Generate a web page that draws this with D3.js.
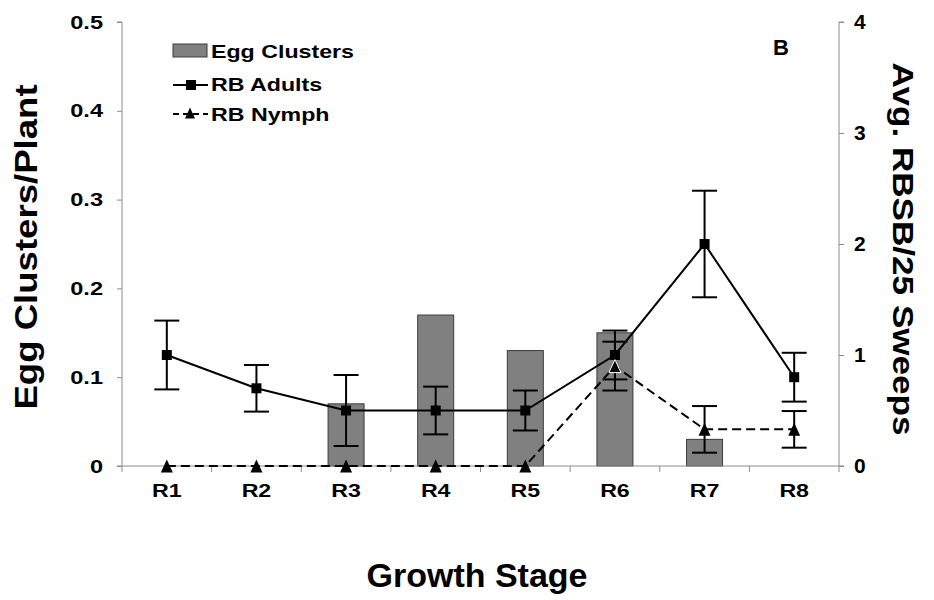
<!DOCTYPE html>
<html><head><meta charset="utf-8">
<script src="https://cdn.jsdelivr.net/npm/d3@7"></script>
<style>body{margin:0;background:#fff}svg{display:block}text{font-family:"Liberation Sans",Arial,sans-serif;font-weight:bold}</style>
</head><body><svg id="c" width="934" height="600"></svg>
<script>
const categories = ["R1","R2","R3","R4","R5","R6","R7","R8"];
const eggClusters = [0,0,0.07,0.17,0.13,0.15,0.03,0];
const adults = [1.0,0.7,0.5,0.5,0.5,1.0,2.0,0.8];
const adultsErr = [0.31,0.21,0.32,0.215,0.18,0.22,0.48,0.22];
const nymphs = [0,0,0,0,0,0.9,0.33,0.33];
const nymphsErr = [null,null,null,null,null,0.22,0.21,0.165];
const leftTicks = [0,0.1,0.2,0.3,0.4,0.5];
const rightTicks = [0,1,2,3,4];

const svg = d3.select("#c");
const L=122, R=839, T=22, B=466;
const x = d3.scaleBand().domain(categories).range([L,R]).paddingInner(0).paddingOuter(0);
const yL = d3.scaleLinear().domain([0,0.5]).range([B,T]);
const yR = d3.scaleLinear().domain([0,4]).range([B,T]);
const axisColor="#8c8c8c";

function stretch(sel, f){
  sel.each(function(){ const n=this; const len=n.getComputedTextLength();
    d3.select(n).attr("textLength",len*f).attr("lengthAdjust","spacingAndGlyphs"); });
}

// bars
const bw = 36;
svg.append("g").selectAll("rect").data(categories.map((c,i)=>({c,v:eggClusters[i]})).filter(d=>d.v>0))
 .join("rect").attr("x",d=>x(d.c)+x.bandwidth()/2-bw/2).attr("width",bw)
 .attr("y",d=>yL(d.v)).attr("height",d=>B-yL(d.v))
 .attr("fill","#808080").attr("stroke","#3a3a3a").attr("stroke-width",1);

// axes
const gL = svg.append("g").attr("transform",`translate(${L},0)`)
 .call(d3.axisLeft(yL).tickValues(leftTicks).tickSize(5).tickPadding(14).tickFormat(d=>d===0?"0":d3.format(".1f")(d)));
const gR = svg.append("g").attr("transform",`translate(${R},0)`)
 .call(d3.axisRight(yR).tickValues(rightTicks).tickSize(5).tickPadding(10).tickFormat(d3.format("d")));
const gX = svg.append("g").attr("transform",`translate(0,${B})`)
 .call(d3.axisBottom(x).tickSize(0).tickPadding(18));
[gL,gR,gX].forEach(g=>{g.select(".domain").attr("stroke",axisColor);g.selectAll(".tick line").attr("stroke",axisColor);
 g.selectAll("text").attr("font-family","Liberation Sans, Arial, sans-serif").attr("font-weight","bold").attr("fill","#000");});
gL.selectAll("text").attr("font-size",19); stretch(gL.selectAll("text"),1.24);
gR.selectAll("text").attr("font-size",20); stretch(gR.selectAll("text"),1.05);
gX.selectAll("text").attr("font-size",19); stretch(gX.selectAll("text"),1.22);
gL.select(".domain").attr("d",`M-5,${T}H0V${B}H-5`);
gR.select(".domain").attr("d",`M5,${T}H0V${B}H5`);
gX.select(".domain").attr("d",`M${L},0H${R}`);
// x boundary ticks
const bounds = categories.map(c=>x(c)).concat([R]);
svg.append("g").selectAll("line").data(bounds).join("line")
 .attr("x1",d=>d).attr("x2",d=>d).attr("y1",B).attr("y2",B+6).attr("stroke",axisColor);

const cx = c=>x(c)+x.bandwidth()/2;

// nymph line
svg.append("path").datum(nymphs).attr("fill","none").attr("stroke","#000").attr("stroke-width",2)
 .attr("stroke-dasharray","9,5")
 .attr("d",d3.line().x((d,i)=>cx(categories[i])).y(d=>yR(d)));
// adults line
svg.append("path").datum(adults).attr("fill","none").attr("stroke","#000").attr("stroke-width",2)
 .attr("d",d3.line().x((d,i)=>cx(categories[i])).y(d=>yR(d)));

// error bars
function errBars(vals, errs){
 const g=svg.append("g").attr("stroke","#000").attr("stroke-width",2);
 vals.forEach((v,i)=>{
  const e=errs[i]; if(e==null) return;
  const X=cx(categories[i]);
  g.append("line").attr("x1",X).attr("x2",X).attr("y1",yR(v+e)).attr("y2",yR(v-e));
  [v+e,v-e].forEach(t=>g.append("line").attr("x1",X-12.5).attr("x2",X+12.5).attr("y1",yR(t)).attr("y2",yR(t)));
 });
}
errBars(adults,adultsErr);
errBars(nymphs,nymphsErr);

// markers
svg.append("g").selectAll("rect").data(adults).join("rect")
 .attr("x",(d,i)=>cx(categories[i])-5).attr("y",d=>yR(d)-5).attr("width",10).attr("height",10).attr("fill","#000");
const triPath = "M0,-6.5L6,6.5L-6,6.5Z";
svg.append("g").selectAll("path").data(nymphs).join("path")
 .attr("d",triPath).attr("transform",(d,i)=>`translate(${cx(categories[i])},${yR(d)})`)
 .attr("fill","#000").attr("stroke",(d,i)=>i===5?"#fff":"none").attr("stroke-width",1);

// axis titles
const t1 = svg.append("text").attr("transform","translate(37,247) rotate(-90)").attr("text-anchor","middle")
 .attr("font-size",31).text("Egg Clusters/Plant");
stretch(t1,1.18);
const t2 = svg.append("text").attr("transform","translate(893,249) rotate(90)").attr("text-anchor","middle")
 .attr("font-size",29).text("Avg. RBSB/25 Sweeps");
stretch(t2,1.21);
svg.append("text").attr("x",477).attr("y",587).attr("text-anchor","middle").attr("font-size",34).text("Growth Stage");
svg.append("text").attr("x",781).attr("y",55).attr("text-anchor","middle").attr("font-size",22).text("B");

// legend
const lg = svg.append("g");
lg.append("rect").attr("x",173).attr("y",44).attr("width",34).attr("height",13).attr("fill","#808080").attr("stroke","#3a3a3a");
lg.append("line").attr("x1",173).attr("x2",208).attr("y1",85).attr("y2",85).attr("stroke","#000").attr("stroke-width",2);
lg.append("rect").attr("x",186).attr("y",80).attr("width",10).attr("height",10).attr("fill","#000");
lg.append("line").attr("x1",173).attr("x2",208).attr("y1",114).attr("y2",114).attr("stroke","#000").attr("stroke-width",2).attr("stroke-dasharray","6,4");
lg.append("path").attr("d","M0,-5.5L5,5.5L-5,5.5Z").attr("transform","translate(190,113)").attr("fill","#000");
const lt = lg.selectAll("text.lt").data([["Egg Clusters",58],["RB Adults",91],["RB Nymph",121]]).join("text")
 .attr("class","lt").attr("x",211).attr("y",d=>d[1]).attr("font-size",19).text(d=>d[0]);
stretch(lt,1.22);
</script></body></html>
